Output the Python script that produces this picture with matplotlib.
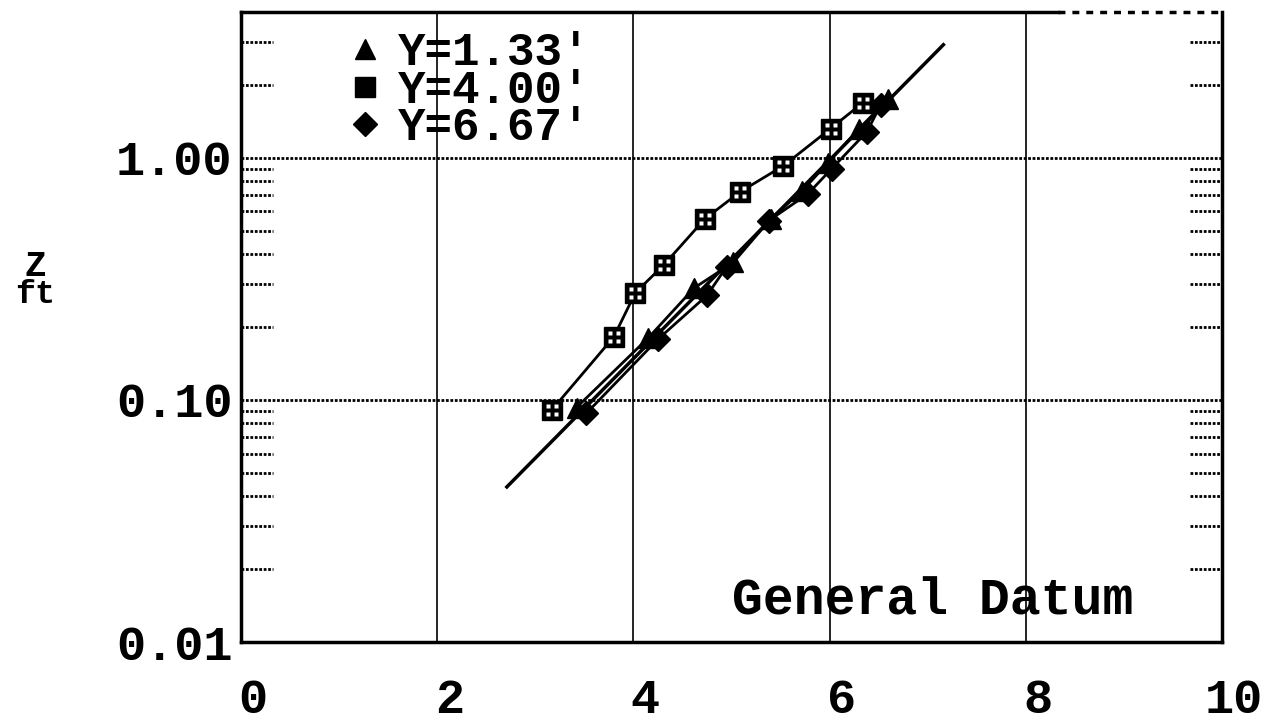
import matplotlib.pyplot as plt
import matplotlib.transforms as mtransforms
from matplotlib.path import Path
import numpy as np

# Y = 4.00' series (squares)
sq_x = [3.17, 3.80, 4.02, 4.31, 4.73, 5.09, 5.53, 6.01, 6.34]
sq_z = [0.091, 0.182, 0.277, 0.361, 0.56, 0.724, 0.927, 1.32, 1.69]
# Y = 1.33' series (triangles)
tri_x = [3.42, 4.15, 4.62, 5.02, 5.40, 5.72, 5.98, 6.30, 6.60]
tri_z = [0.093, 0.18, 0.29, 0.37, 0.56, 0.73, 0.95, 1.32, 1.75]
# Y = 6.67' series (diamonds)
dia_x = [3.52, 4.25, 4.75, 4.95, 5.38, 5.78, 6.02, 6.38, 6.52]
dia_z = [0.088, 0.178, 0.27, 0.355, 0.55, 0.71, 0.90, 1.28, 1.65]
# fitted line
fit_x = [2.71, 7.16]
fit_z = [0.0437, 2.93]

x_ticks = [0, 2, 4, 6, 8, 10]
y_ticks = [0.01, 0.1, 1.0]
y_labels = ["0.01", "0.10", "1.00"]
labels = ["Y=1.33'", "Y=4.00'", "Y=6.67'"]

mono = "Liberation Mono"

# 4 small dots pattern for square markers
verts, codes = [], []
for cx, cy in [(-1, -1), (1, -1), (1, 1), (-1, 1)]:
    r = 0.4
    verts += [(cx - r, cy - r), (cx + r, cy - r), (cx + r, cy + r), (cx - r, cy + r), (0, 0)]
    codes += [Path.MOVETO, Path.LINETO, Path.LINETO, Path.LINETO, Path.CLOSEPOLY]
dots = Path(verts, codes)

fig = plt.figure(figsize=(12.83, 7.21), dpi=100)
ax = fig.add_axes([241 / 1283, 1 - 642 / 721, 981 / 1283, 630 / 721])
ax.set_yscale("log")
ax.set_xlim(0, 10)
ax.set_ylim(0.01, 4)

# grid
for gx in [2, 4, 6, 8]:
    ax.axvline(gx, color="black", lw=1.2, zorder=1)
for gy in [0.1, 1.0]:
    ax.axhline(gy, color="black", lw=2, ls=(0, (1, 0.6)), zorder=1)

# minor ticks drawn as short dotted dashes on left and right
minor = [m * 10.0 ** e for e in [-2, -1, 0] for m in range(2, 10)]
minor = [m for m in minor if m < 4]
tl = ax.get_yaxis_transform()
ax.hlines(minor, 0, 0.033, transform=tl, color="black", lw=2, ls=(0, (1, 0.6)))
ax.hlines(minor, 0.967, 1, transform=tl, color="black", lw=2, ls=(0, (1, 0.6)))

ax.plot(fit_x, fit_z, color="black", lw=2.5, zorder=2)
h1, = ax.plot(tri_x, tri_z, color="black", lw=2, marker="^", ms=15, zorder=3)
h2, = ax.plot(sq_x, sq_z, color="black", lw=2, marker="s", ms=15, zorder=3)
h3, = ax.plot(dia_x, dia_z, color="black", lw=2, marker="D", ms=12, zorder=3)
# white dots inside squares
ax.plot(sq_x, sq_z, ls="none", marker=dots, ms=8, mfc="white", mec="none", zorder=4)

# spines
for s in ["left", "bottom", "right"]:
    ax.spines[s].set_linewidth(2.5)
ax.spines["top"].set_visible(False)
xt = ax.get_xaxis_transform()
ax.plot([0, 8.33], [1, 1], transform=xt, color="black", lw=2.5, clip_on=False)
ax.plot([8.33, 10], [1, 1], transform=xt, color="black", lw=2.5,
        ls=(0, (2, 2)), clip_on=False)

ax.set_xticks(x_ticks)
ax.set_xticklabels([str(t) for t in x_ticks])
ax.set_yticks(y_ticks)
ax.set_yticklabels(y_labels)
ax.yaxis.set_minor_locator(plt.NullLocator())
ax.tick_params(axis="both", length=0)
ax.tick_params(axis="x", pad=26)
ax.tick_params(axis="y", pad=6)
shift = mtransforms.ScaledTranslation(12 / 100, 0, fig.dpi_scale_trans)
for t in ax.get_xticklabels():
    t.set_transform(t.get_transform() + shift)
for t in ax.get_xticklabels() + ax.get_yticklabels():
    t.set_fontfamily(mono)
    t.set_fontweight("bold")
    t.set_fontsize(35)

ax.text(5.01, 0.0148, "General Datum", fontfamily=mono, fontweight="bold",
        fontsize=37, va="center", ha="left")

fig.text(35 / 1283, 1 - 266 / 721, "Z", fontfamily=mono, fontweight="bold",
         fontsize=26, ha="center", va="center")
fig.text(35 / 1283, 1 - 294 / 721, "ft", fontfamily=mono, fontweight="bold",
         fontsize=24, ha="center", va="center")

leg = ax.legend([h1, h2, h3], labels, loc="upper left", bbox_to_anchor=(0.08, 1.02),
                frameon=False, handlelength=0.6, handletextpad=0.4,
                labelspacing=-0.15, borderaxespad=0.3,
                prop={"family": mono, "weight": "bold", "size": 33})
for lh in leg.legend_handles:
    lh.set_linestyle("none")

fig.savefig("out.png", dpi=100)
